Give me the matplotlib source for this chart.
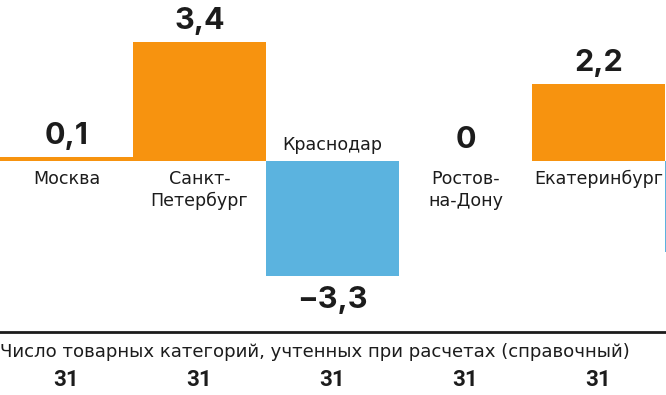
import matplotlib
matplotlib.use("Agg")
import matplotlib.pyplot as plt

cities = ["Москва", "Санкт-\nПетербург", "Краснодар", "Ростов-\nна-Дону", "Екатеринбург", ""]
values = [0.1, 3.4, -3.3, 0.0, 2.2, -2.6]
value_labels = ["0,1", "3,4", "\u22123,3", "0", "2,2", ""]
counts = [31, 31, 31, 31, 31]
footer_title = "Число товарных категорий, учтенных при расчетах (справочный)"

ORANGE = "#F7930F"
BLUE = "#5BB3DF"
DARK = "#1c1c1c"

fig = plt.figure(figsize=(6.66, 3.95), dpi=100)
ax = fig.add_axes([0, 0, 1, 1])
ax.set_xlim(-0.5, 4.508)
# 35 px per unit, baseline 161 px from top
ax.set_ylim(-(395 - 161) / 35, 161 / 35)
ax.axis("off")

x = list(range(len(values)))
colors = [ORANGE if v >= 0 else BLUE for v in values]
ax.bar(x, values, width=1.0, color=colors, linewidth=0)

for i, (v, lab, city) in enumerate(zip(values, value_labels, cities)):
    if lab:
        if v >= 0:
            ax.text(i, v + 0.2, lab, ha="center", va="bottom", fontsize=22,
                    fontweight="bold", color=DARK, family="Inter")
        else:
            ax.text(i, v - 0.26, lab, ha="center", va="top", fontsize=22,
                    fontweight="bold", color=DARK, family="Inter")
    if city:
        if v >= 0:
            ax.text(i, -0.26, city, ha="center", va="top", fontsize=12.6,
                    color=DARK, family="DejaVu Sans", linespacing=1.25)
        else:
            ax.text(i, 0.2, city, ha="center", va="bottom", fontsize=12.6,
                    color=DARK, family="DejaVu Sans")

# footer
ax.axhline(-(332 - 161) / 35, color=DARK, lw=2)
ax.text(-0.5, -(352 - 161) / 35, footer_title, ha="left", va="center",
        fontsize=13.1, color=DARK, family="DejaVu Sans")
for i, c in enumerate(counts):
    ax.text(i, -(380 - 161) / 35, str(c), ha="center", va="center",
            fontsize=16, fontweight="bold", color=DARK, family="Roboto")

fig.savefig("out.png", dpi=100)
